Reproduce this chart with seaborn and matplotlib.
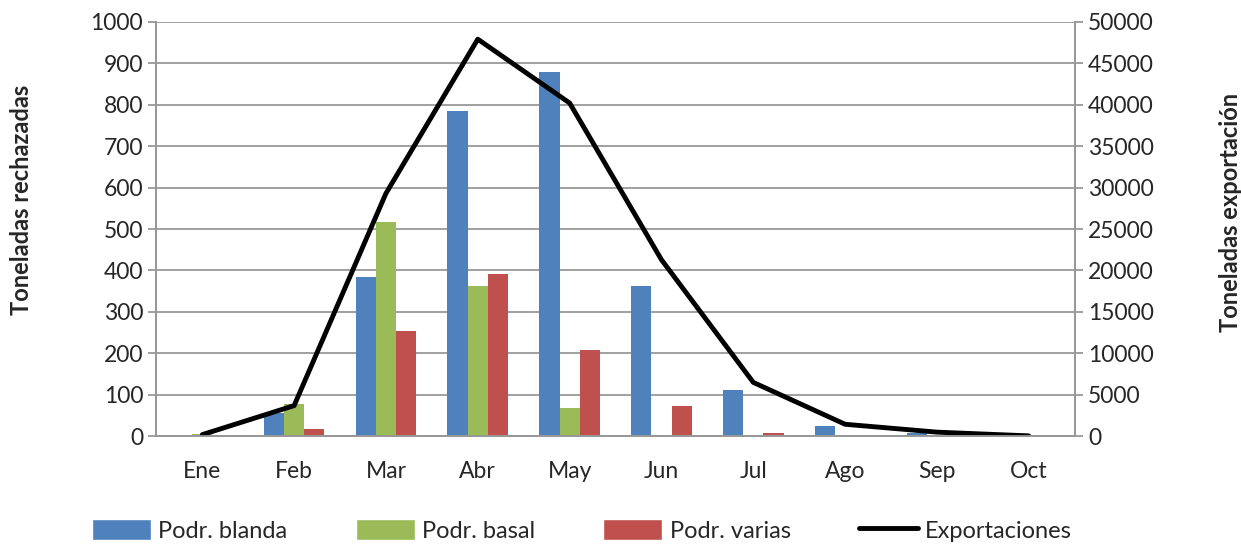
import matplotlib.pyplot as plt
import numpy as np
import pandas as pd
import seaborn as sns
from matplotlib.lines import Line2D
from matplotlib.patches import Patch

months = ["Ene", "Feb", "Mar", "Abr", "May", "Jun", "Jul", "Ago", "Sep", "Oct"]
podr_blanda = [4, 55, 385, 785, 878, 362, 112, 25, 8, 0]
podr_basal = [5, 77, 518, 363, 68, 2, 0, 0, 0, 0]
podr_varias = [3, 17, 254, 392, 207, 72, 8, 0, 0, 0]
exportaciones = [200, 3700, 29300, 47900, 40200, 21300, 6500, 1450, 500, 50]

series = ["Podr. blanda", "Podr. basal", "Podr. varias"]
colors = ["#4F81BD", "#9BBB59", "#C0504D"]
grid_c = "#989898"

df = pd.DataFrame({
    "mes": months * 3,
    "tipo": np.repeat(series, len(months)),
    "ton": podr_blanda + podr_basal + podr_varias,
})

sns.set_style("white")
plt.rcParams["font.family"] = ["Lato", "DejaVu Sans"]

fig, ax = plt.subplots(figsize=(12.41, 5.44), dpi=100)
fig.subplots_adjust(left=0.126, right=0.866, top=0.96, bottom=0.198)

sns.barplot(data=df, x="mes", y="ton", hue="tipo", palette=colors,
            width=0.66, ax=ax, legend=False, saturation=1, linewidth=0)
ax.set_ylim(0, 1000)
ax.set_xlim(-0.5, len(months) - 0.5)
ax.set_yticks(range(0, 1001, 100))
ax.yaxis.grid(True, color=grid_c, linewidth=1.3)
ax.set_axisbelow(True)
ax.set_xlabel("")
ax.set_ylabel("")
ax.set_xticks(np.arange(-0.5, len(months) - 0.4, 1), minor=False)
ax.set_xticklabels([])
ax.set_xticks(np.arange(len(months)), minor=True)
ax.set_xticklabels(months, minor=True)
ax.tick_params(axis="x", which="major", length=6, color=grid_c, width=1.3)
ax.tick_params(axis="x", which="minor", length=0, labelsize=16.5, pad=18)
ax.tick_params(axis="y", length=6, color=grid_c, width=1.3, labelsize=16.5)
for s in ax.spines.values():
    s.set_color(grid_c)
    s.set_linewidth(1.3)
ax.spines["top"].set_visible(False)

ax2 = ax.twinx()
sns.lineplot(x=np.arange(len(months)), y=exportaciones, color="black",
             linewidth=3.5, ax=ax2)
ax2.set_ylim(0, 50000)
ax2.set_yticks(range(0, 50001, 5000))
ax2.set_ylabel("")
ax2.tick_params(axis="y", length=6, color=grid_c, width=1.3, labelsize=16.5)
for s in ax2.spines.values():
    s.set_color(grid_c)
    s.set_linewidth(1.3)
ax2.spines["top"].set_visible(False)

# axis titles placed like the original (off-centre of the plot area)
fig.text(0.017, 0.632, "Toneladas rechazadas", rotation=90,
         ha="center", va="center", fontsize=17, fontweight="bold")
fig.text(0.9915, 0.61, "Toneladas exportación", rotation=90,
         ha="center", va="center", fontsize=17, fontweight="bold")

handles = [Patch(facecolor=c, label=s) for c, s in zip(colors, series)]
handles.append(Line2D([0], [0], color="black", linewidth=3.5, label="Exportaciones"))
fig.legend(handles=handles, loc="lower center", ncol=4, frameon=False,
           fontsize=17, bbox_to_anchor=(0.469, -0.035), columnspacing=2.9,
           handlelength=2.5, handleheight=1.0, handletextpad=0.3)

fig.savefig("out.png", dpi=100)
